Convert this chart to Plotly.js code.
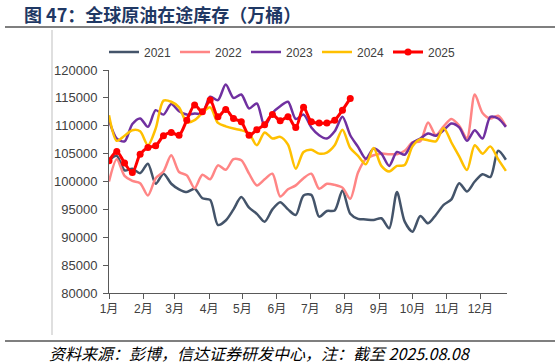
<!DOCTYPE html>
<html>
<head>
<meta charset="utf-8">
<script src="https://cdn.plot.ly/plotly-3.0.1.min.js"></script>
<style>html,body{margin:0;padding:0;background:#fff;}#chart{width:557px;height:364px;}</style>
</head>
<body>
<div id="chart"></div>
<script>
// Weekly observations, x = day of year of each weekly reading
const weekIndex = [0,1,2,3,4,5,6,7,8,9,10,11,12,13,14,15,16,17,18,19,20,21,22,23,24,25,26,27,28,29,30,31,32,33,34,35,36,37,38,39,40,41,42,43,44,45,46,47,48,49,50,51];
const monthLabels = ['1月','2月','3月','4月','5月','6月','7月','8月','9月','10月','11月','12月'];
const monthStartDay = [0,31,59,90,120,151,181,212,243,273,304,334];

const y2021 = [103800,104600,102000,102300,101500,103200,99600,101400,99600,98600,98100,98700,97000,96700,92200,93000,95000,97200,95300,94200,92800,95000,96300,95000,94000,97500,97600,93700,94700,94800,98400,94200,93300,93200,93100,93400,91600,98100,92800,91000,93800,92500,94000,95800,96800,99700,98200,100000,101300,100800,105500,103900];
const y2022 = [100000,104000,101000,100100,99700,97500,100600,101800,104700,101700,101100,98800,101200,100400,102900,102100,104000,103800,101400,99300,100400,101400,97300,98600,99300,100600,101400,98700,99600,99400,98900,96900,101600,104000,104700,105000,104900,104900,105500,107000,107200,110600,108300,109900,111200,110000,107800,115600,112300,111300,111800,109900];
const y2023 = [111000,107700,107200,110300,111300,109800,112800,112000,113900,112600,112000,112200,112200,115200,114600,117400,115000,115600,113100,114000,109900,112300,113500,114300,111200,112000,109700,108300,107700,109000,111600,108300,106200,104100,105900,105000,102800,105300,104800,106900,107700,108600,108200,109200,110400,109700,107300,109200,107700,111600,111300,109800];
const y2024 = [111900,107300,108200,109200,109000,106500,109500,114500,114300,113300,110600,111000,112300,113300,110500,109900,109500,109200,108600,106500,108800,107700,108000,106600,102300,105300,105700,105000,105200,106500,109300,106000,104600,103100,106000,102800,101800,102800,102950,106300,107600,107400,107200,109600,107000,104500,102050,106500,105000,106300,104000,101900];
const y2025 = [103700,105400,103300,101600,104900,106100,106400,108200,108800,108300,111000,113700,112500,114600,111600,112900,111300,110700,108300,109300,110200,112000,110900,111600,109700,113300,110700,110500,110500,111000,112800,114900];

const seriesNames = ['2021','2022','2023','2024','2025'];
const seriesData = [y2021,y2022,y2023,y2024,y2025];
const seriesColors = ['#44546A','#FF8585','#7030A0','#FFC000','#FF0000'];

const xDays = weekIndex.map(w => w * 7);

const traces = seriesData.map((ys, i) => {
  const isLast = i === seriesData.length - 1;
  const t = {
    type: 'scatter',
    mode: isLast ? 'lines+markers' : 'lines',
    name: seriesNames[i],
    x: xDays.slice(0, ys.length),
    y: ys,
    line: {color: seriesColors[i], width: isLast ? 3 : 2.5, shape: 'spline', smoothing: 0.8}
  };
  if (isLast) t.marker = {color: seriesColors[i], size: 7};
  return t;
});

const W = 557, H = 364, L = 109, R = 50, T = 70, B = 71;
const pw = W - L - R, ph = H - T - B;
const px = v => (v - L) / pw;
const py = v => (H - B - v) / ph;

const layout = {
  width: W, height: H,
  margin: {l: L, r: R, t: T, b: B},
  paper_bgcolor: '#fff', plot_bgcolor: '#fff',
  font: {family: 'Liberation Sans, Arial, Noto Sans CJK SC, sans-serif', color: '#404040', size: 12},
  title: {
    text: '图 47：全球原油在途库存（万桶）',
    xref: 'container', yref: 'container',
    x: 24 / W, xanchor: 'left', y: 1 - 16 / H, yanchor: 'middle',
    font: {family: 'Noto Sans CJK SC, sans-serif', size: 18, color: '#1F3864', weight: 'bold'}
  },
  showlegend: true,
  legend: {
    orientation: 'h', xref: 'container', yref: 'container',
    x: 104 / W, xanchor: 'left', y: 1 - 52 / H, yanchor: 'middle',
    font: {size: 12, color: '#404040'},
    itemwidth: 30, entrywidth: 26, entrywidthmode: 'pixels',
    bgcolor: 'rgba(0,0,0,0)'
  },
  xaxis: {
    range: [0, 358],
    tickmode: 'array', tickvals: monthStartDay, ticktext: monthLabels,
    ticks: 'outside', ticklen: 5, tickcolor: '#595959', tickwidth: 1,
    showline: true, linecolor: '#595959', linewidth: 1,
    showgrid: false, zeroline: false,
    tickfont: {size: 12, color: '#404040', family: 'Liberation Sans, Noto Sans CJK SC, sans-serif'}
  },
  yaxis: {
    range: [80000, 120000], dtick: 5000, tick0: 80000, tickformat: 'd',
    ticks: 'outside', ticklen: 5, tickcolor: '#595959', tickwidth: 1,
    showline: true, linecolor: '#595959', linewidth: 1,
    showgrid: false, zeroline: false, ticklabelstandoff: 3,
    tickfont: {size: 13, color: '#404040'}
  },
  shapes: [
    {type: 'line', xref: 'paper', yref: 'paper', x0: px(5), x1: px(555), y0: py(27), y1: py(27), line: {color: '#7F7F7F', width: 2}},
    {type: 'line', xref: 'paper', yref: 'paper', x0: px(5), x1: px(555), y0: py(341), y1: py(341), line: {color: '#7F7F7F', width: 2}},
    {type: 'line', xref: 'paper', yref: 'paper', x0: px(52), x1: px(52), y0: py(30), y1: py(335), line: {color: '#BFBFBF', width: 1}}
  ],
  annotations: [
    {text: '<i>资料来源：彭博，信达证券研发中心，注：截至 2025.08.08</i>', xref: 'paper', yref: 'paper',
     x: px(47), xanchor: 'left', y: py(353), yanchor: 'middle', showarrow: false,
     font: {family: 'Noto Sans CJK SC, Liberation Sans, sans-serif', size: 16, color: '#000'}}
  ]
};

Plotly.newPlot('chart', traces, layout, {displayModeBar: false, staticPlot: true});
</script>
</body>
</html>
